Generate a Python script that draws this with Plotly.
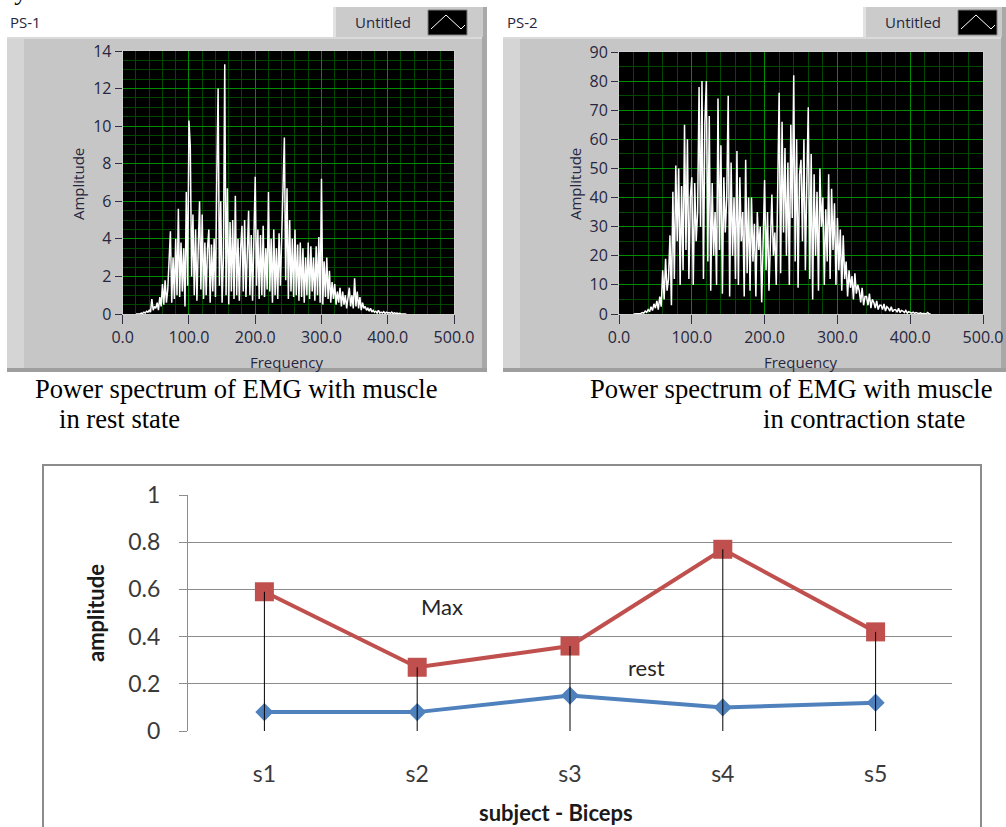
import plotly.graph_objects as go

W, H = 1006, 827

# ---------------- data ----------------
# PS-1: power spectrum, muscle at rest (amplitude every 2 Hz starting at 20 Hz)
ps1_f0, ps1_df = 20, 2
ps1_amp = [
    0, 0, 0.02, 0, 0.05,
    0.03, 0.1, 0.05, 0.15, 0.1,
    0.2, 0.1, 0.8, 0.2, 0.4,
    0.3, 0.6, 0.2, 0.9, 0.4,
    1.6, 0.5, 1.8, 0.6, 1.3,
    3.0, 4.4, 0.6, 3.0, 0.8,
    4.0, 1.0, 5.6, 0.9, 3.8,
    1.2, 3.5, 0.4, 6.5, 1.5,
    10.3, 8.9, 2.0, 5.3, 1.0,
    4.5, 0.7, 3.5, 6.0, 1.3,
    5.3, 0.8, 3.8, 1.0, 3.5,
    4.5, 0.6, 3.7, 1.2, 4.0,
    0.9, 7.3, 12.0, 1.5, 6.0,
    0.6, 3.0, 13.3, 1.0, 6.7,
    0.5, 4.9, 1.2, 5.0, 0.8,
    6.3, 1.0, 4.0, 0.7, 3.5,
    4.7, 1.2, 5.0, 0.9, 3.8,
    5.5, 1.0, 4.2, 0.7, 4.4,
    7.3, 1.5, 4.5, 0.8, 4.2,
    1.0, 4.7, 0.9, 3.5, 1.3,
    6.5, 1.2, 4.0, 0.6, 4.5,
    1.0, 3.5, 0.8, 4.3, 1.5,
    4.5, 6.5, 9.4, 1.8, 6.7,
    0.8, 5.0, 1.2, 4.0, 0.9,
    4.5, 1.0, 3.7, 0.7, 3.8,
    0.9, 3.5, 0.6, 3.0, 1.0,
    3.8, 0.8, 3.6, 1.2, 3.0,
    0.7, 3.6, 1.0, 4.1, 0.6,
    7.2, 0.5, 2.8, 0.9, 3.0,
    0.8, 2.3, 0.6, 1.7, 0.8,
    1.6, 0.5, 1.2, 0.6, 1.4,
    0.4, 1.2, 0.5, 1.0, 0.3,
    0.9, 1.4, 0.4, 1.0, 0.3,
    1.9, 0.4, 1.2, 0.3, 0.9,
    0.2, 0.6, 0.3, 0.4, 0.2,
    0.3, 0.15, 0.3, 0.1, 0.2,
    0.1, 0.15, 0.05, 0.2, 0.05,
    0.1, 0.05, 0.12, 0.03, 0.1,
    0.05, 0.08, 0.03, 0.1, 0.02,
    0.06, 0.03, 0.05, 0.02, 0.04,
    0, 0, 0, 0, 0,
]

# PS-2: power spectrum, muscle in contraction (amplitude every 2 Hz starting at 20 Hz)
ps2_f0, ps2_df = 20, 2
ps2_amp = [
    0, 0, 0, 0, 0,
    0.2, 0.5, 0.3, 1.0, 0.6,
    1.5, 0.8, 2.5, 1.2, 3.5,
    2.0, 4.5, 1.5, 6.0, 2.5,
    15, 5, 19, 8, 12,
    27, 3, 42, 12, 51,
    25, 50, 10, 44, 15,
    65, 22, 60, 12, 40,
    47, 10, 45, 25, 35,
    78, 30, 80, 12, 66,
    80, 18, 68, 8, 45,
    20, 35, 10, 74, 22,
    58, 7, 47, 28, 40,
    75, 6, 52, 20, 40,
    12, 56, 10, 47, 25,
    35, 6, 53, 14, 40,
    8, 40, 18, 31, 6,
    35, 22, 30, 4, 25,
    46, 15, 35, 8, 25,
    41, 20, 28, 10, 43,
    76, 14, 66, 28, 57,
    20, 52, 10, 65, 33,
    82, 18, 60, 9, 48,
    53, 25, 60, 15, 45,
    71, 12, 55, 5, 48,
    20, 42, 8, 50, 30,
    40, 10, 36, 18, 48,
    12, 43, 22, 38, 10,
    33, 15, 29, 8, 27,
    12, 18, 6, 15, 9,
    13, 5, 14, 7, 10,
    8, 4, 9, 3, 6,
    6, 3, 7, 2, 5,
    4, 2, 4.5, 1.5, 3,
    3, 1.5, 3.5, 1, 2.5,
    2, 1, 2.5, 0.8, 1.5,
    1.5, 0.6, 2, 0.5, 1.2,
    1, 0.5, 1.2, 0.3, 0.8,
    0.5, 0.3, 0.6, 0.2, 0.5,
    0.3, 0.1, 0.4, 0.1, 0.2,
    0.2, 0.1, 0.5, 0, 0.1,
]

freq_ticks = [0, 100, 200, 300, 400, 500]
freq_tick_labels = ["0.0", "100.0", "200.0", "300.0", "400.0", "500.0"]

# Bottom chart: subject - Biceps
subjects = ["s1", "s2", "s3", "s4", "s5"]
max_vals = [0.59, 0.27, 0.36, 0.77, 0.42]
rest_vals = [0.08, 0.08, 0.15, 0.10, 0.12]

ps1_freq = [ps1_f0 + i * ps1_df for i in range(len(ps1_amp))]
ps2_freq = [ps2_f0 + i * ps2_df for i in range(len(ps2_amp))]


def px(x):
    return x / W


def py(y):
    return 1 - y / H


fig = go.Figure()

fig.add_trace(go.Scatter(x=ps1_freq, y=ps1_amp, mode="lines",
                         line=dict(color="white", width=1.5), xaxis="x", yaxis="y",
                         hoverinfo="skip"))
fig.add_trace(go.Scatter(x=ps2_freq, y=ps2_amp, mode="lines",
                         line=dict(color="white", width=1.5), xaxis="x2", yaxis="y2",
                         hoverinfo="skip"))

fig.add_trace(go.Scatter(x=subjects, y=rest_vals, mode="lines+markers", name="rest",
                         line=dict(color="#4F81BD", width=4),
                         marker=dict(symbol="diamond", size=14, color="#4F81BD"),
                         xaxis="x3", yaxis="y3"))
fig.add_trace(go.Scatter(x=subjects, y=max_vals, mode="lines+markers", name="Max",
                         line=dict(color="#C0504D", width=4),
                         marker=dict(symbol="square", size=19, color="#C0504D"),
                         xaxis="x3", yaxis="y3"))
# high-low drop lines from Max to 0
fig.add_trace(go.Scatter(x=subjects, y=max_vals, mode="markers",
                         marker=dict(size=1, opacity=0),
                         error_y=dict(type="data", symmetric=False,
                                      array=[0] * len(max_vals), arrayminus=max_vals,
                                      color="black", thickness=1, width=0),
                         xaxis="x3", yaxis="y3", hoverinfo="skip"))

lv_font = dict(family="Open Sans", size=16, color="#262640")
major_g = "#008C00"
minor_g = "#004800"


def lv_x(domain):
    return dict(domain=domain, range=[0, 500], tickvals=freq_ticks, ticktext=freq_tick_labels,
                ticks="outside", ticklen=9, tickcolor="#303040", tickwidth=1,
                showgrid=True, gridcolor=major_g, gridwidth=1,
                minor=dict(dtick=20, tick0=0, showgrid=True, gridcolor=minor_g, gridwidth=1, ticks=""),
                tickfont=lv_font, showline=True, linecolor="#D0D0D0", linewidth=1, mirror=True,
                zeroline=False, fixedrange=True)


def lv_y(domain, top, dt, mdt):
    return dict(domain=domain, range=[0, top], dtick=dt, tick0=0,
                ticks="outside", ticklen=7, tickcolor="#303040", tickwidth=1,
                showgrid=True, gridcolor=major_g, gridwidth=1,
                minor=dict(dtick=mdt, tick0=0, showgrid=True, gridcolor=minor_g, gridwidth=1, ticks=""),
                tickfont=lv_font, showline=True, linecolor="#D0D0D0", linewidth=1, mirror=True,
                zeroline=False, fixedrange=True)


fig.update_layout(
    width=W, height=H, margin=dict(l=0, r=0, t=0, b=0, autoexpand=False),
    paper_bgcolor="white", plot_bgcolor="rgba(0,0,0,0)", showlegend=False,
    xaxis=dict(lv_x([px(122.7), px(454)]), anchor="y"),
    yaxis=dict(lv_y([py(314), py(51)], 14, 2, 0.5), anchor="x"),
    xaxis2=dict(lv_x([px(619), px(983)]), anchor="y2"),
    yaxis2=dict(lv_y([py(314), py(52)], 90, 10, 5), anchor="x2"),
    xaxis3=dict(domain=[px(188), px(952)], anchor="y3", type="category",
                range=[-0.5, 4.5], showgrid=False, zeroline=False, showline=False,
                ticks="", ticklabelstandoff=27,
                tickfont=dict(family="Lato", size=23, color="#3a3a3a"), fixedrange=True),
    yaxis3=dict(domain=[py(731), py(495)], anchor="x3", range=[0, 1], dtick=0.2,
                tickvals=[0, 0.2, 0.4, 0.6, 0.8, 1], ticktext=["0", "0.2", "0.4", "0.6", "0.8", "1"],
                showgrid=True, gridcolor="#8C8C8C", gridwidth=1, zeroline=False,
                showline=True, linecolor="#8C8C8C", linewidth=1,
                ticks="outside", ticklen=8, tickcolor="#8C8C8C", ticklabelstandoff=14,
                tickfont=dict(family="Lato", size=23, color="#3a3a3a"), fixedrange=True),
)

shapes = []


def rect(x0, y0, x1, y1, fill, line=None, lw=0):
    shapes.append(dict(type="rect", xref="paper", yref="paper",
                       x0=px(x0), x1=px(x1), y0=py(y1), y1=py(y0),
                       fillcolor=fill, line=dict(color=line or fill, width=lw), layer="below"))


for (L, R, lx0, icon0, icon1, pl, pr, pt) in [
    (7, 487, 333, 428, 467, 122.7, 454, 51),
    (503, 1006, 863, 958, 997, 619, 983, 52),
]:
    # legend box "Untitled"
    rect(lx0, 7, R, 40, "#CBCBCB")
    rect(lx0, 7, lx0 + 3, 40, "#E2E2E2")
    rect(R - 4, 7, R, 40, "#A9A9A9")
    # panel
    rect(L, 37, R, 372, "#C6C6C6")
    rect(L, 37, L + 17, 372, "#D5D5D5")
    rect(L, 37, R, 39, "#DADADA")
    rect(R - 5, 37, R, 372, "#A8A8A8")
    rect(L, 368, R, 372, "#9E9E9E")
    # icon
    rect(icon0, 10, icon1, 35, "black", "#808080", 1)
    shapes.append(dict(type="path", xref="paper", yref="paper", layer="below",
                       path="M {a},{b} L {c},{d} L {e},{f} L {g},{h}".format(
                           a=px(icon0 + 3), b=py(29), c=px(icon0 + 18), d=py(15),
                           e=px(icon1 - 6), f=py(29), g=px(icon1 - 2), h=py(25)),
                       line=dict(color="white", width=1)))
    # black plot area
    rect(pl, pt, pr, 314, "black")

# bottom chart border
shapes.append(dict(type="rect", xref="paper", yref="paper",
                   x0=px(43), x1=px(981), y0=py(835), y1=py(465),
                   line=dict(color="#8C8C8C", width=2), fillcolor="rgba(0,0,0,0)", layer="below"))

fig.update_layout(shapes=shapes)

ann = []


def text(x, y, t, size, family, color, xanchor="center", angle=0, bold=False):
    if bold:
        t = "<b>" + t + "</b>"
    ann.append(dict(xref="paper", yref="paper", x=px(x), y=py(y), text=t, showarrow=False,
                    xanchor=xanchor, yanchor="middle", textangle=angle,
                    font=dict(size=size, family=family, color=color)))


lv_t = "#262640"
text(8, 22, "PS-1", 15, "Open Sans", lv_t, xanchor="left")
text(505, 22, "PS-2", 15, "Open Sans", lv_t, xanchor="left")
text(383, 22, "Untitled", 15, "Open Sans", lv_t)
text(913, 22, "Untitled", 15, "Open Sans", lv_t)
text(78, 184, "Amplitude", 15, "Open Sans", lv_t, angle=-90)
text(575, 184, "Amplitude", 15, "Open Sans", lv_t, angle=-90)
text(286, 362, "Frequency", 15, "Open Sans", lv_t)
text(800, 362, "Frequency", 15, "Open Sans", lv_t)

cap = "Liberation Serif"
text(33, 389, "Power spectrum of EMG with muscle", 26.6, cap, "black", xanchor="left")
text(57, 419, "in rest state", 26.6, cap, "black", xanchor="left")
text(588, 389, "Power spectrum of EMG with muscle", 26.6, cap, "black", xanchor="left")
text(761, 419, "in contraction state", 26.6, cap, "black", xanchor="left")
text(5, -8, "ly.", 26, cap, "black", xanchor="left")

text(95, 613, "amplitude", 22, "Lato", "#1a1a1a", angle=-90, bold=True)
text(556, 812, "subject - Biceps", 22, "Lato", "#1a1a1a", bold=True)
text(442, 606, "Max", 22, "Lato", "#262626")
text(646, 667, "rest", 22, "Lato", "#262626")

fig.update_layout(annotations=ann)

fig.write_html("out.html", config={"displayModeBar": False},
               post_script="document.body.style.margin='0';document.body.style.padding='0';")
